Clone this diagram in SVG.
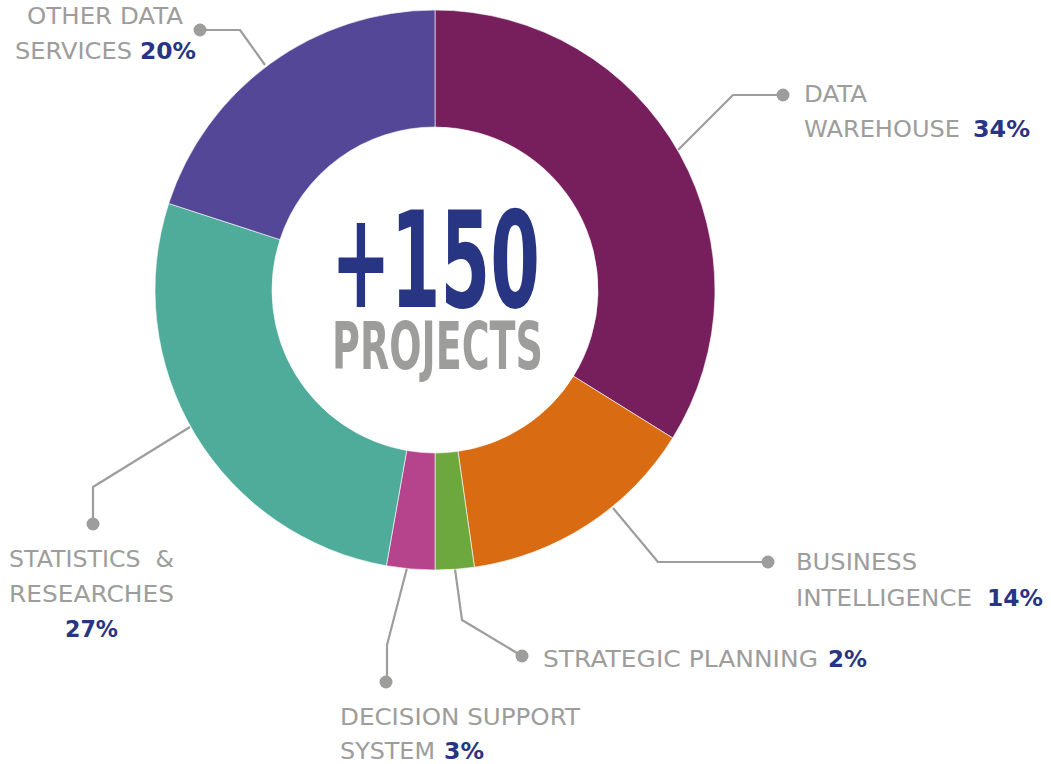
<svg xmlns="http://www.w3.org/2000/svg" width="1051" height="764" viewBox="0 0 1051 764">
<style>
.lbl{font-family:"DejaVu Sans","Liberation Sans",sans-serif;font-size:23px;fill:#9D9D9C;}
.pct{font-family:"DejaVu Sans","Liberation Sans",sans-serif;font-size:23px;font-weight:bold;fill:#283583;}
.lead{fill:none;stroke:#9D9D9C;stroke-width:2.2;stroke-linejoin:round;}
.dot{fill:#9D9D9C;}
.seg{stroke:#ffffff;stroke-width:0.6;}
.big{font-family:"DejaVu Sans Condensed","Liberation Sans Narrow","DejaVu Sans",sans-serif;font-weight:bold;}
</style>
<rect width="1051" height="764" fill="#ffffff"/>
<g id="connectors">
<path class="lead" d="M265,65 L240,30 L200,30"/>
<circle class="dot" cx="200" cy="30" r="6.5"/>
<path class="lead" d="M678,150 L733,95 L783,95"/>
<circle class="dot" cx="783" cy="95" r="6.5"/>
<path class="lead" d="M613,508 L658,562 L768,562"/>
<circle class="dot" cx="768" cy="562" r="6.5"/>
<path class="lead" d="M455,569 L462,620 L522,656"/>
<circle class="dot" cx="522" cy="656" r="6.5"/>
<path class="lead" d="M407,568 L387,645 L387,682"/>
<circle class="dot" cx="386" cy="682" r="6.5"/>
<path class="lead" d="M190,427 L93,487 L93,524"/>
<circle class="dot" cx="93" cy="524" r="6.5"/>
</g>
<g id="node-data-warehouse">
<path class="seg" fill="#761F5C" d="M435,10 A280,280 0 0 1 672.70,437.96 L573.38,376.14 A163,163 0 0 0 435,127 Z"/>
<text class="lbl" x="804" y="102" textLength="63" lengthAdjust="spacingAndGlyphs">DATA</text>
<text class="lbl" x="804" y="137" textLength="156" lengthAdjust="spacingAndGlyphs">WAREHOUSE</text>
<text class="pct" x="973" y="137" textLength="57" lengthAdjust="spacingAndGlyphs">34%</text>
</g>
<g id="node-business-intelligence">
<path class="seg" fill="#D96C12" d="M672.70,437.96 A280,280 0 0 1 474.45,567.21 L457.97,451.37 A163,163 0 0 0 573.38,376.14 Z"/>
<text class="lbl" x="796" y="570" textLength="121" lengthAdjust="spacingAndGlyphs">BUSINESS</text>
<text class="lbl" x="796" y="606" textLength="176" lengthAdjust="spacingAndGlyphs">INTELLIGENCE</text>
<text class="pct" x="987" y="606" textLength="56" lengthAdjust="spacingAndGlyphs">14%</text>
</g>
<g id="node-strategic-planning">
<path class="seg" fill="#6DA83F" d="M474.45,567.21 A280,280 0 0 1 435,570 L435,453 A163,163 0 0 0 457.97,451.37 Z"/>
<text class="lbl" x="543" y="667" textLength="275" lengthAdjust="spacingAndGlyphs">STRATEGIC PLANNING</text>
<text class="pct" x="828" y="667" textLength="39" lengthAdjust="spacingAndGlyphs">2%</text>
</g>
<g id="node-decision-support">
<path class="seg" fill="#B5448C" d="M435,570 A280,280 0 0 1 386.38,565.75 L406.70,450.52 A163,163 0 0 0 435,453 Z"/>
<text class="lbl" x="340" y="725" textLength="240" lengthAdjust="spacingAndGlyphs">DECISION SUPPORT</text>
<text class="lbl" x="340" y="759" textLength="95" lengthAdjust="spacingAndGlyphs">SYSTEM</text>
<text class="pct" x="444" y="759" textLength="40" lengthAdjust="spacingAndGlyphs">3%</text>
</g>
<g id="node-statistics">
<path class="seg" fill="#50AC9A" d="M386.38,565.75 A280,280 0 0 1 168.70,203.48 L279.98,239.63 A163,163 0 0 0 406.70,450.52 Z"/>
<text class="lbl" x="9" y="567" textLength="165" lengthAdjust="spacingAndGlyphs" xml:space="preserve" style="white-space:pre">STATISTICS  &amp;</text>
<text class="lbl" x="9" y="602" textLength="165" lengthAdjust="spacingAndGlyphs">RESEARCHES</text>
<text class="pct" x="65" y="637" textLength="53" lengthAdjust="spacingAndGlyphs">27%</text>
</g>
<g id="node-other-data-services">
<path class="seg" fill="#554798" d="M168.70,203.48 A280,280 0 0 1 435,10 L435,127 A163,163 0 0 0 279.98,239.63 Z"/>
<text class="lbl" x="27" y="24" textLength="156" lengthAdjust="spacingAndGlyphs">OTHER DATA</text>
<text class="lbl" x="15" y="59" textLength="117" lengthAdjust="spacingAndGlyphs">SERVICES</text>
<text class="pct" x="140" y="59" textLength="56" lengthAdjust="spacingAndGlyphs">20%</text>
</g>
<g id="node-center">
<text class="big" x="331" y="307" font-size="133" fill="#283583" textLength="209" lengthAdjust="spacingAndGlyphs">+150</text>
<text class="big" x="332" y="369" font-size="66" fill="#9D9D9C" textLength="211" lengthAdjust="spacingAndGlyphs">PROJECTS</text>
</g>
</svg>
